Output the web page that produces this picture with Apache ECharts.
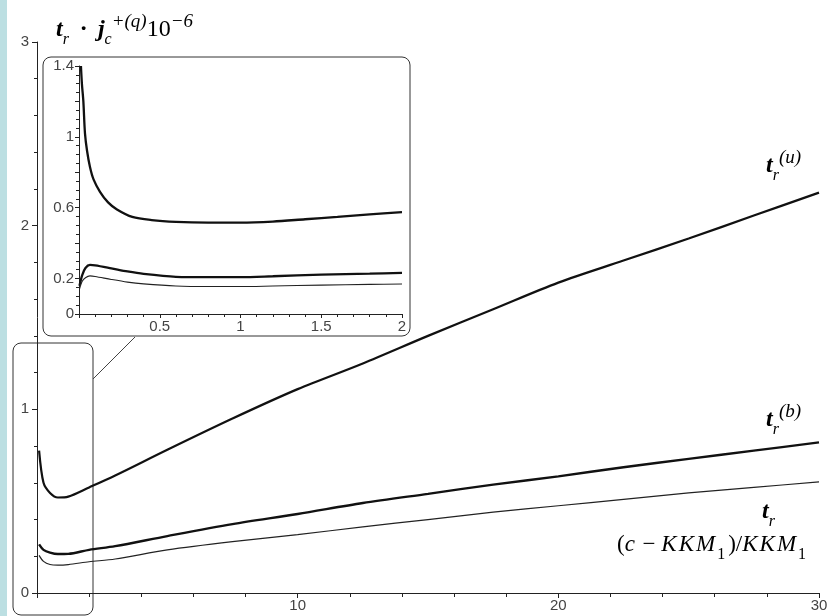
<!DOCTYPE html>
<html>
<head>
<meta charset="utf-8">
<script src="https://cdn.jsdelivr.net/npm/echarts@6/dist/echarts.min.js"></script>
<style>
html, body { margin: 0; padding: 0; background: #fff; }
#chart { width: 830px; height: 616px; }
</style>
</head>
<body>
<div id="chart"></div>
<script>
// main plot, x = (c - KKM1)/KKM1
const mainX = [0.08, 0.25, 0.5, 0.8, 1.2, 2, 3, 5, 7.5, 10, 12.5, 15, 17.5, 20, 22.5, 25, 27.5, 30];
const upperMain = [0.775, 0.6, 0.545, 0.52, 0.525, 0.575, 0.64, 0.78, 0.95, 1.11, 1.25, 1.4, 1.545, 1.69, 1.81, 1.93, 2.055, 2.18];
const middleMain = [0.265, 0.235, 0.22, 0.212, 0.213, 0.235, 0.255, 0.31, 0.375, 0.43, 0.49, 0.54, 0.59, 0.635, 0.685, 0.73, 0.775, 0.82];
const lowerMain = [0.205, 0.172, 0.155, 0.152, 0.155, 0.17, 0.185, 0.235, 0.28, 0.318, 0.36, 0.4, 0.44, 0.475, 0.51, 0.545, 0.575, 0.605];

// inset, x from 0 to 2
const insetUpperX = [0.012, 0.018, 0.027, 0.037, 0.05, 0.068, 0.09, 0.13, 0.18, 0.235, 0.33, 0.45, 0.6, 0.8, 1, 1.2, 1.4, 1.6, 1.8, 2];
const insetUpper = [1.4, 1.3, 1.2, 1.02, 0.92, 0.83, 0.76, 0.69, 0.63, 0.59, 0.548, 0.53, 0.52, 0.516, 0.516, 0.522, 0.535, 0.548, 0.562, 0.575];
const insetLowX = [0.003, 0.02, 0.04, 0.068, 0.1, 0.2, 0.3, 0.4, 0.6, 0.8, 1, 1.2, 1.5, 1.8, 2];
const insetMiddle = [0.16, 0.22, 0.26, 0.277, 0.275, 0.258, 0.24, 0.226, 0.21, 0.208, 0.208, 0.213, 0.222, 0.228, 0.232];
const insetLower = [0.14, 0.185, 0.205, 0.215, 0.212, 0.195, 0.18, 0.17, 0.158, 0.155, 0.155, 0.158, 0.163, 0.167, 0.169];

const insetYLabels = [0, 0.2, 0.6, 1, 1.4];

function pairs(xs, ys) {
  return xs.map((x, i) => [x, ys[i]]);
}

const axisColor = '#222';
const labelStyle = { color: '#444', fontSize: 15, fontFamily: 'Liberation Sans, Arial, sans-serif' };

// rich styles for the math labels
const serif = 'Liberation Serif';
const rich = {
  b: { fontFamily: serif, fontStyle: 'italic', fontWeight: 'bold', fontSize: 24, lineHeight: 36, verticalAlign: 'middle', color: '#111' },
  i: { fontFamily: serif, fontStyle: 'italic', fontSize: 23, lineHeight: 36, verticalAlign: 'middle', color: '#111', padding: [0, 2, 0, 0] },
  n: { fontFamily: serif, fontSize: 23, lineHeight: 36, verticalAlign: 'middle', color: '#111' },
  big: { fontFamily: serif, fontSize: 24, lineHeight: 36, verticalAlign: 'middle', color: '#111' },
  sub: { fontFamily: serif, fontStyle: 'italic', fontSize: 16, lineHeight: 16, verticalAlign: 'bottom', color: '#111' },
  subn: { fontFamily: serif, fontSize: 16, lineHeight: 16, verticalAlign: 'bottom', color: '#111', padding: [0, 3, 0, 0] },
  sup: { fontFamily: serif, fontStyle: 'italic', fontSize: 19, lineHeight: 19, verticalAlign: 'top', color: '#111' }
};

function mathText(x, y, text) {
  return {
    type: 'text', x: x, y: y, silent: true,
    style: { text: text, rich: rich, align: 'left', verticalAlign: 'middle' }
  };
}

const lineSeries = (name, axis, data, color, width) => ({
  name: name, type: 'line', xAxisIndex: axis, yAxisIndex: axis, data: data,
  showSymbol: false, smooth: 0.3, lineStyle: { color: color, width: width }
});

const myChart = echarts.init(document.getElementById('chart'));
const option = {
  animation: false,
  backgroundColor: '#fff',
  grid: [
    { left: 37, top: 42, width: 782, height: 551, containLabel: false, outerBoundsMode: 'none' },
    { left: 79, top: 66, width: 323, height: 248, containLabel: false, outerBoundsMode: 'none' }
  ],
  xAxis: [
    {
      type: 'value', gridIndex: 0, min: 0, max: 30, interval: 10,
      axisLine: { show: true, onZero: false, lineStyle: { color: axisColor, width: 1 } },
      axisTick: { show: true, length: 5, lineStyle: { color: axisColor } },
      minorTick: { show: true, splitNumber: 5, length: 4, lineStyle: { color: axisColor } },
      splitLine: { show: false },
      axisLabel: Object.assign({ margin: 5, formatter: v => (v === 0 ? '' : v) }, labelStyle)
    },
    {
      type: 'value', gridIndex: 1, min: 0, max: 2, interval: 0.5,
      axisLine: { show: true, onZero: false, lineStyle: { color: axisColor, width: 1 } },
      axisTick: { show: true, length: 4, lineStyle: { color: axisColor } },
      minorTick: { show: true, splitNumber: 5, length: 3, lineStyle: { color: axisColor } },
      splitLine: { show: false },
      axisLabel: Object.assign({ margin: 5, formatter: v => (v === 0 ? '' : v) }, labelStyle)
    }
  ],
  yAxis: [
    {
      type: 'value', gridIndex: 0, min: 0, max: 3, interval: 1,
      axisLine: { show: true, onZero: false, lineStyle: { color: axisColor, width: 1 } },
      axisTick: { show: true, length: 5, lineStyle: { color: axisColor } },
      minorTick: { show: true, splitNumber: 5, length: 3, lineStyle: { color: axisColor } },
      splitLine: { show: false },
      axisLabel: Object.assign({ margin: 8 }, labelStyle)
    },
    {
      type: 'value', gridIndex: 1, min: 0, max: 1.4, interval: 0.2,
      axisLine: { show: true, onZero: false, lineStyle: { color: axisColor, width: 1 } },
      axisTick: { show: true, length: 4, lineStyle: { color: axisColor } },
      minorTick: { show: true, splitNumber: 4, length: 3, lineStyle: { color: axisColor } },
      splitLine: { show: false },
      axisLabel: Object.assign({
        margin: 5,
        formatter: v => (insetYLabels.some(t => Math.abs(t - v) < 1e-6) ? +v.toFixed(1) : '')
      }, labelStyle)
    }
  ],
  series: [
    lineSeries('tr(u)', 0, pairs(mainX, upperMain), '#111', 2.2),
    lineSeries('tr(b)', 0, pairs(mainX, middleMain), '#111', 2.4),
    lineSeries('tr', 0, pairs(mainX, lowerMain), '#222', 1.2),
    lineSeries('inset tr(u)', 1, pairs(insetUpperX, insetUpper), '#111', 2.3),
    lineSeries('inset tr(b)', 1, pairs(insetLowX, insetMiddle), '#111', 2.3),
    lineSeries('inset tr', 1, pairs(insetLowX, insetLower), '#222', 1.1)
  ],
  graphic: [
    // light blue strip on the left edge
    { type: 'rect', shape: { x: 0, y: 0, width: 7, height: 616 }, style: { fill: '#bcdfe2' }, silent: true },
    // inset frame, zoom box and connector
    { type: 'rect', shape: { x: 43, y: 57, width: 367, height: 279, r: 8 }, style: { fill: 'none', stroke: '#333', lineWidth: 1 }, silent: true },
    { type: 'rect', shape: { x: 13, y: 343, width: 80, height: 272, r: 8 }, style: { fill: 'none', stroke: '#333', lineWidth: 1 }, silent: true },
    { type: 'line', shape: { x1: 135, y1: 337, x2: 93, y2: 379 }, style: { stroke: '#444', lineWidth: 1 }, silent: true },
    // labels
    mathText(56, 30, '{b|t}{sub|r}{n|  }{b|·}{n|  }{b|j}{sub|c}{sup|+(q)}{big|10}{sup|−6}'),
    mathText(766, 166, '{b|t}{sub|r}{sup|(u)}'),
    mathText(766, 420, '{b|t}{sub|r}{sup|(b)}'),
    mathText(762, 512, '{b|t}{sub|r}'),
    mathText(617, 545, '{n|(}{i|c}{n| − }{i|K}{i|K}{i|M}{subn|1}{n|)/}{i|K}{i|K}{i|M}{subn|1}')
  ]
};
myChart.setOption(option);
</script>
</body>
</html>
